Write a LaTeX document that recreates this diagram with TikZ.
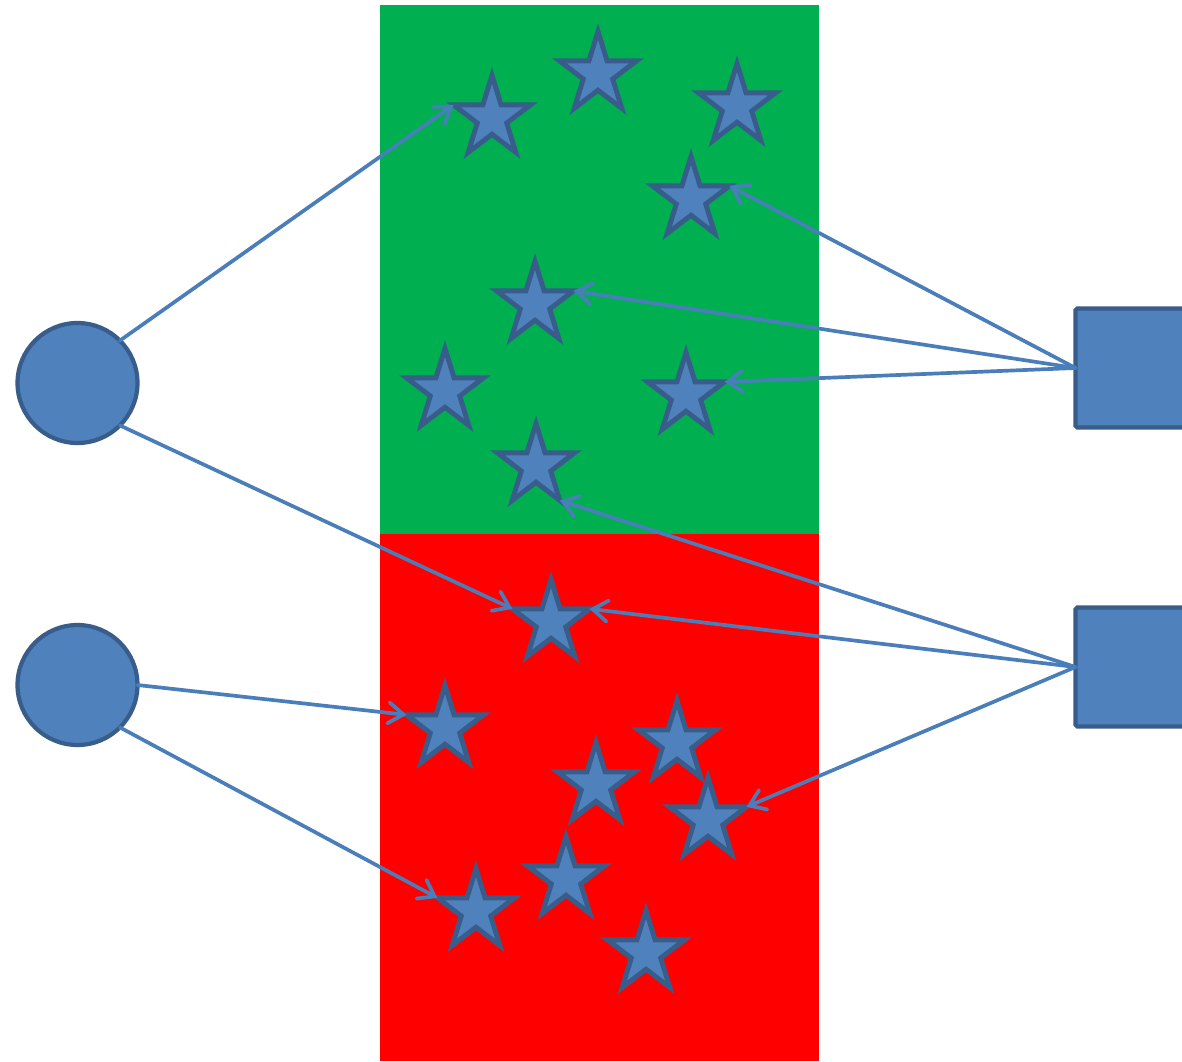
\documentclass[tikz,border=0pt]{standalone}
\usetikzlibrary{shapes.geometric,arrows.meta}
\definecolor{shapefill}{HTML}{4F81BD}
\definecolor{shapeline}{HTML}{385D8A}
\definecolor{linkblue}{HTML}{4A7EBB}
\definecolor{zonegreen}{HTML}{00B050}
\definecolor{zonered}{HTML}{FF0000}
\tikzset{
  px/.style={x=0.02cm,y=-0.02cm},
  starnode/.style={star,star points=5,star point ratio=2.618,minimum size=1.62cm,
    inner sep=0pt,outer sep=0pt,yscale=1.05,transform shape,
    fill=shapefill,draw=shapeline,line width=2.8pt,line join=miter},
  dot/.style={circle,minimum size=2.4cm,inner sep=0pt,outer sep=0pt,
    fill=shapefill,draw=shapeline,line width=2.4pt},
  block/.style={rectangle,minimum size=2.38cm,inner sep=0pt,outer sep=0pt,
    fill=shapefill,draw=shapeline,line width=2.4pt,rounded corners=1pt},
  link/.style={draw=linkblue,line width=2.1pt,line cap=round,
    -{Straight Barb[length=8.5pt,width=12pt,line cap=round]}},
}
\begin{document}
\begin{tikzpicture}[px]
\useasboundingbox (0,0) rectangle (1182,1061);
\clip (0,0) rectangle (1182,1061);
\fill[white] (0,0) rectangle (1182,1061);
% two zones
\fill[zonegreen] (380,5) rectangle (819,534);
\fill[zonered] (380,534) rectangle (819,1061);
% stars in the green zone
\node[starnode] (s1) at (492,118) {};
\node[starnode] (s2) at (598,74) {};
\node[starnode] (s3) at (737,106) {};
\node[starnode] (s4) at (691,199) {};
\node[starnode] (s5) at (535,304) {};
\node[starnode] (s6) at (445,391) {};
\node[starnode] (s7) at (686,395) {};
\node[starnode] (s8) at (536,466) {};
% stars in the red zone
\node[starnode] (s9) at (551,622) {};
\node[starnode] (s10) at (445,728) {};
\node[starnode] (s11) at (677,743) {};
\node[starnode] (s12) at (596,785) {};
\node[starnode] (s13) at (708,820) {};
\node[starnode] (s14) at (566,879) {};
\node[starnode] (s15) at (476,911) {};
\node[starnode] (s16) at (646,953) {};
% sources on the left
\node[dot] (c1) at (77.5,383) {};
\node[dot] (c2) at (77.5,685) {};
% sources on the right
\node[block] (b1) at (1135,368) {};
\node[block] (b2) at (1135,667) {};
% connectors
\draw[link] (c1.north east) -- (s1.outer point 2);
\draw[link] (c1.south east) -- (s9.outer point 2);
\draw[link] (c2.east) -- (s10.outer point 2);
\draw[link] (c2.south east) -- (s15.outer point 2);
\draw[link] (b1.west) -- (s4.outer point 5);
\draw[link] (b1.west) -- (s5.outer point 5);
\draw[link] (b1.west) -- (s7.outer point 5);
\draw[link] (b2.west) -- (s8.outer point 4);
\draw[link] (b2.west) -- (s9.outer point 5);
\draw[link] (b2.west) -- (s13.outer point 5);
\end{tikzpicture}
\end{document}
